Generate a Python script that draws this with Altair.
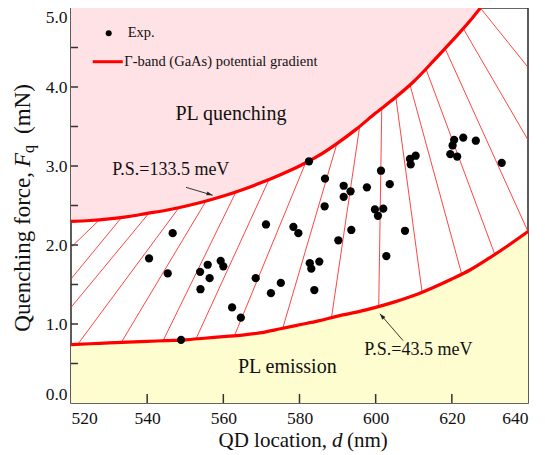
import altair as alt
import pandas as pd

FONT = "Liberation Serif"

# experimental points
exp_d = [540.5, 545.4, 546.7, 548.9, 553.9, 554.0, 555.9, 556.4, 559.3, 560.0,
         562.3, 564.6, 568.5, 571.2, 572.5, 575.1, 578.4, 579.7, 582.5, 582.7,
         583.1, 583.9, 585.2, 586.6, 586.7, 590.2, 591.6, 591.6, 593.4, 593.6,
         597.7, 599.8, 600.6, 601.4, 602.0, 602.8, 603.7, 607.7, 609.0, 609.2,
         610.5, 619.6, 620.2, 620.6, 621.4, 623.0, 626.3, 633.1]
exp_f = [1.83, 1.64, 2.15, 0.80, 1.66, 1.44, 1.75, 1.58, 1.80, 1.73,
         1.21, 1.08, 1.58, 2.26, 1.39, 1.52, 2.23, 2.15, 3.06, 1.77,
         1.70, 1.43, 1.79, 2.49, 2.84, 2.06, 2.75, 2.61, 2.68, 2.19,
         2.73, 2.45, 2.37, 2.94, 2.46, 1.86, 2.77, 2.18, 3.09, 3.02,
         3.13, 3.15, 3.26, 3.33, 3.12, 3.36, 3.32, 3.04]

# P.S. = 133.5 meV curve (upper)
upper_d = [520, 525, 530, 535, 540, 545, 550, 555, 560, 565, 570, 575, 580,
           585, 590, 595, 600, 605, 610, 615, 620, 625, 627.5]
upper_f = [2.30, 2.31, 2.33, 2.36, 2.40, 2.44, 2.49, 2.55, 2.62, 2.70, 2.79, 2.89, 3.00,
           3.13, 3.29, 3.47, 3.67, 3.86, 4.07, 4.32, 4.58, 4.85, 5.00]

# P.S. = 43.5 meV curve (lower)
lower_d = [520, 525, 530, 535, 540, 545, 550, 555, 560, 565, 570, 575, 580,
           585, 590, 595, 600, 605, 610, 615, 620, 625, 630, 635, 640]
lower_f = [0.74, 0.75, 0.76, 0.77, 0.78, 0.79, 0.80, 0.82, 0.84, 0.86, 0.89, 0.94, 0.99,
           1.04, 1.10, 1.15, 1.21, 1.28, 1.36, 1.46, 1.57, 1.69, 1.84, 2.00, 2.17]

# hatch lines: upper end -> lower end
hatch_d1 = [527.5, 533.3, 540.4, 548.3, 555.5, 563.3, 572.0, 581.6, 589.8, 595.8,
            601.6, 605.3, 609.0, 613.2, 618.2, 623.0, 627.5]
hatch_f1 = [2.32, 2.35, 2.40, 2.47, 2.56, 2.67, 2.83, 3.04, 3.28, 3.50,
            3.73, 3.87, 4.03, 4.23, 4.49, 4.74, 5.00]
hatch_d2 = [520, 520, 520, 521.8, 533.2, 544.2, 552.8, 562.9, 575.6, 588.4,
            600.8, 612.2, 622.6, 631.3, 640, 640, 640]
hatch_f2 = [1.97, 1.57, 1.21, 0.745, 0.766, 0.79, 0.81, 0.85, 0.946, 1.08,
            1.21, 1.40, 1.63, 1.88, 2.17, 3.33, 4.25]

# arrows (start -> tip)
arrow_d1 = [550.2, 607.2]
arrow_f1 = [2.73, 0.79]
arrow_d2 = [557.2, 601.1]
arrow_f2 = [2.63, 1.13]
arrow_ang = [17, 229]

x_ticks = [520, 540, 560, 580, 600, 620, 640]
x_minor = [540, 560, 580, 600, 620]
y_ticks = [0, 1, 2, 3, 4, 5]
y_minor = [0.5, 1.0, 1.5, 2.0, 2.5, 3.0, 3.5, 4.0, 4.5]

exp_df = pd.DataFrame({"d": exp_d, "f": exp_f})
up_df = pd.DataFrame({"d": upper_d, "f": upper_f})
lo_df = pd.DataFrame({"d": lower_d, "f": lower_f})
hatch_df = pd.DataFrame({"d1": hatch_d1, "f1": hatch_f1, "d2": hatch_d2, "f2": hatch_f2})
arrow_df = pd.DataFrame({"d1": arrow_d1, "f1": arrow_f1, "d2": arrow_d2, "f2": arrow_f2, "ang": arrow_ang})
xt_df = pd.DataFrame({"v": x_minor})
yt_df = pd.DataFrame({"v": y_minor})
one = pd.DataFrame({"a": [0]})

xscale = alt.Scale(domain=[520, 640], nice=False, zero=False)
yscale = alt.Scale(domain=[0, 5], nice=False, zero=False)
xaxis = alt.Axis(values=x_ticks, format="d", title=None, domain=False, ticks=False,
                 tickSize=0, grid=False, labelFont=FONT, labelFontSize=17.5,
                 labelColor="#111111", labelPadding=6)
yaxis = alt.Axis(values=y_ticks, format=".1f", title=None, domain=False, ticks=False,
                 tickSize=0, grid=False, labelFont=FONT, labelFontSize=17.5,
                 labelColor="#111111", labelPadding=4, labelFlush=True)


def X(f):
    return alt.X(f, type="quantitative", scale=xscale, axis=xaxis)


def Y(f):
    return alt.Y(f, type="quantitative", scale=yscale, axis=yaxis)


pink = alt.Chart(up_df).mark_area(color="#FFE2E5", interpolate="monotone").encode(
    x=X("d"), y=Y("f"), y2=alt.datum(5))
yellow = alt.Chart(lo_df).mark_area(color="#FEFDD0", interpolate="monotone").encode(
    x=X("d"), y=Y("f"), y2=alt.datum(0))
hatch = alt.Chart(hatch_df).mark_rule(color="#FF3030", strokeWidth=0.9).encode(
    x=X("d1"), y=Y("f1"), x2="d2", y2="f2")
up_line = alt.Chart(up_df).mark_line(color="#FF0000", strokeWidth=3.2, interpolate="monotone").encode(
    x=X("d"), y=Y("f"))
lo_line = alt.Chart(lo_df).mark_line(color="#FF0000", strokeWidth=3.2, interpolate="monotone").encode(
    x=X("d"), y=Y("f"))
pts = alt.Chart(exp_df).mark_circle(size=68, color="black", opacity=1).encode(
    x=X("d"), y=Y("f"))

arrows = alt.Chart(arrow_df).mark_rule(color="#222222", strokeWidth=0.9).encode(
    x=X("d1"), y=Y("f1"), x2="d2", y2="f2")
heads = alt.Chart(arrow_df).mark_point(shape="M0,0L-1,-0.33L-1,0.33Z", size=150, filled=True,
                                       color="#222222", opacity=1).encode(
    x=X("d2"), y=Y("f2"), angle=alt.Angle("ang:Q", scale=None))


def label(txt, d, f, size, **kw):
    return alt.Chart(one).mark_text(text=txt, font=FONT, fontSize=size, color="#111111", **kw).encode(
        x=alt.datum(d, scale=xscale), y=alt.datum(f, scale=yscale))


t_q = label("PL quenching", 562.0, 3.66, 20)
t_e = label("PL emission", 576.8, 0.46, 20)
t_p1 = label("P.S.=133.5 meV", 546.2, 2.95, 18)
t_p2 = label("P.S.=43.5 meV", 611.2, 0.67, 18)

# legend
leg_dot = alt.Chart(one).mark_circle(size=36, color="black", opacity=1).encode(
    x=alt.datum(529.9, scale=xscale), y=alt.datum(4.68, scale=yscale))
leg_line = alt.Chart(one).mark_rule(color="#FF0000", strokeWidth=3).encode(
    x=alt.datum(525.7, scale=xscale), x2=alt.datum(533.6), y=alt.datum(4.32, scale=yscale))
leg_t1 = label("Exp.", 534.9, 4.68, 14.5, align="left")
leg_t2 = label("\u0393-band (GaAs) potential gradient", 534.0, 4.32, 14.5, align="left")

# inward ticks
xt = alt.Chart(xt_df).mark_rule(color="#333333", strokeWidth=1.5).encode(
    x=X("v"), y=alt.value(395), y2=alt.value(386))
yt = alt.Chart(yt_df).mark_rule(color="#333333", strokeWidth=1.5).encode(
    y=Y("v"), x=alt.value(0), x2=alt.value(7))


# axis titles
def ptext(txt, x, y, size, **kw):
    return alt.Chart(one).mark_text(text=txt, font=FONT, fontSize=size, color="#111111", **kw).encode(
        x=alt.value(x), y=alt.value(y))


xt1 = ptext("QD location,", 256, 439, 21, align="right", baseline="alphabetic")
xt2 = ptext("d", 261, 439, 21, align="left", baseline="alphabetic", fontStyle="italic")
xt3 = ptext("(nm)", 276, 439, 21, align="left", baseline="alphabetic")

yt1 = ptext("Quenching force,", -41, 164, 23, align="right", baseline="alphabetic", angle=270)
yt2 = ptext("F", -41, 159, 23, align="left", baseline="alphabetic", angle=270, fontStyle="italic")
yt3 = ptext("q", -37, 145, 16, align="left", baseline="alphabetic", angle=270)
yt4 = ptext("(mN)", -41, 126, 23, align="left", baseline="alphabetic", angle=270)

chart = alt.layer(
    pink, yellow, hatch, up_line, lo_line, pts, arrows, heads,
    t_q, t_e, t_p1, t_p2, leg_dot, leg_line, leg_t1, leg_t2,
    xt, yt, xt1, xt2, xt3, yt1, yt2, yt3, yt4
).properties(
    width=457, height=395,
    autosize=alt.AutoSizeParams(type="none"),
    padding={"left": 63, "top": 0, "right": 9, "bottom": 50},
).configure_view(stroke="#333333", strokeWidth=1.6, fill="white")

chart.save("out.html", embed_options={"renderer": "svg", "actions": False})
